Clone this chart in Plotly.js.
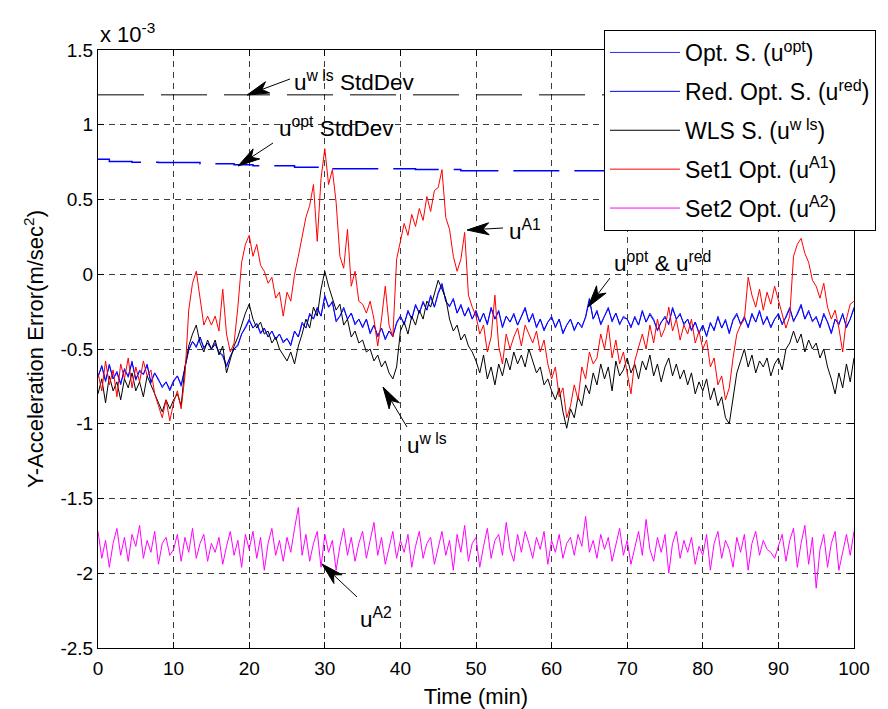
<!DOCTYPE html>
<html>
<head>
<meta charset="utf-8">
<script src="https://cdn.plot.ly/plotly-3.0.1.min.js"></script>
<style>html,body{margin:0;padding:0;background:#fff;}#chart{width:888px;height:709px;}</style>
</head>
<body>
<div id="chart"></div>
<script>
// ---- data (values in units of 1e-3 m/sec^2), sampled every 0.5 min from t = 0 to 100 ----
const tStart = 0;
const tStep = 0.5;

const uOpt = [
 -0.68,-0.62,-0.72,-0.60,-0.70,-0.66,-0.74,-0.63,-0.69,-0.58,
 -0.71,-0.64,-0.67,-0.60,-0.73,-0.66,-0.70,-0.76,-0.72,-0.78,
 -0.72,-0.68,-0.75,-0.62,-0.50,-0.45,-0.48,-0.42,-0.50,-0.46,
 -0.50,-0.46,-0.52,-0.55,-0.62,-0.55,-0.50,-0.48,-0.40,-0.35,
 -0.30,-0.36,-0.33,-0.40,-0.36,-0.42,-0.38,-0.44,-0.40,-0.46,
 -0.43,-0.48,-0.38,-0.42,-0.32,-0.36,-0.26,-0.30,-0.22,-0.28,
 -0.14,-0.22,-0.18,-0.32,-0.28,-0.22,-0.30,-0.26,-0.34,-0.30,
 -0.36,-0.30,-0.40,-0.34,-0.42,-0.36,-0.44,-0.38,-0.42,-0.32,
 -0.28,-0.34,-0.24,-0.30,-0.20,-0.26,-0.18,-0.24,-0.14,-0.22,
 -0.12,-0.06,-0.18,-0.22,-0.16,-0.26,-0.20,-0.28,-0.22,-0.30,
 -0.24,-0.32,-0.26,-0.34,-0.22,-0.30,-0.24,-0.36,-0.28,-0.32,
 -0.26,-0.34,-0.28,-0.22,-0.32,-0.26,-0.36,-0.30,-0.38,-0.32,
 -0.28,-0.36,-0.30,-0.40,-0.34,-0.30,-0.38,-0.32,-0.36,-0.28,
 -0.16,-0.30,-0.24,-0.34,-0.28,-0.22,-0.32,-0.26,-0.34,-0.28,
 -0.30,-0.36,-0.28,-0.34,-0.24,-0.32,-0.26,-0.30,-0.38,-0.32,
 -0.28,-0.34,-0.22,-0.30,-0.26,-0.34,-0.30,-0.38,-0.32,-0.40,
 -0.34,-0.42,-0.32,-0.38,-0.28,-0.36,-0.30,-0.40,-0.30,-0.26,
 -0.34,-0.28,-0.36,-0.26,-0.32,-0.24,-0.34,-0.28,-0.36,-0.30,
 -0.26,-0.34,-0.28,-0.22,-0.32,-0.26,-0.20,-0.30,-0.24,-0.32,
 -0.28,-0.36,-0.26,-0.32,-0.40,-0.30,-0.34,-0.26,-0.36,-0.30,
 -0.22
];

const uRed = [
 -0.69,-0.61,-0.71,-0.61,-0.70,-0.65,-0.73,-0.64,-0.68,-0.59,
 -0.70,-0.65,-0.67,-0.61,-0.72,-0.66,-0.71,-0.75,-0.72,-0.77,
 -0.71,-0.68,-0.74,-0.62,-0.51,-0.45,-0.49,-0.42,-0.49,-0.46,
 -0.50,-0.47,-0.52,-0.54,-0.61,-0.55,-0.50,-0.47,-0.40,-0.36,
 -0.31,-0.36,-0.33,-0.39,-0.36,-0.42,-0.38,-0.43,-0.40,-0.45,
 -0.43,-0.47,-0.38,-0.42,-0.33,-0.36,-0.27,-0.30,-0.23,-0.28,
 -0.15,-0.22,-0.19,-0.31,-0.28,-0.23,-0.30,-0.26,-0.33,-0.30,
 -0.35,-0.30,-0.39,-0.34,-0.41,-0.36,-0.43,-0.38,-0.41,-0.33,
 -0.28,-0.33,-0.25,-0.30,-0.21,-0.26,-0.19,-0.24,-0.15,-0.22,
 -0.13,-0.07,-0.18,-0.21,-0.17,-0.26,-0.21,-0.28,-0.23,-0.30,
 -0.25,-0.32,-0.26,-0.33,-0.23,-0.30,-0.25,-0.35,-0.28,-0.32,
 -0.27,-0.34,-0.28,-0.23,-0.32,-0.27,-0.35,-0.30,-0.37,-0.32,
 -0.29,-0.35,-0.30,-0.39,-0.34,-0.30,-0.37,-0.32,-0.35,-0.29,
 -0.17,-0.30,-0.25,-0.33,-0.28,-0.23,-0.31,-0.26,-0.33,-0.29,
 -0.30,-0.35,-0.29,-0.34,-0.25,-0.32,-0.27,-0.31,-0.37,-0.32,
 -0.29,-0.33,-0.23,-0.30,-0.27,-0.33,-0.30,-0.37,-0.32,-0.39,
 -0.34,-0.41,-0.33,-0.37,-0.29,-0.36,-0.31,-0.39,-0.31,-0.27,
 -0.33,-0.29,-0.35,-0.27,-0.32,-0.25,-0.33,-0.29,-0.35,-0.30,
 -0.27,-0.33,-0.29,-0.23,-0.31,-0.27,-0.21,-0.30,-0.25,-0.31,
 -0.29,-0.35,-0.27,-0.32,-0.39,-0.30,-0.33,-0.27,-0.35,-0.30,
 -0.23
];

const uWls = [
 -0.80,-0.70,-0.86,-0.68,-0.78,-0.72,-0.84,-0.70,-0.76,-0.66,
 -0.78,-0.72,-0.82,-0.68,-0.74,-0.80,-0.86,-0.92,-0.84,-0.90,
 -0.84,-0.80,-0.88,-0.62,-0.48,-0.40,-0.34,-0.46,-0.52,-0.44,
 -0.50,-0.44,-0.54,-0.48,-0.66,-0.56,-0.48,-0.42,-0.34,-0.26,
 -0.20,-0.30,-0.36,-0.32,-0.40,-0.38,-0.46,-0.42,-0.50,-0.54,
 -0.58,-0.52,-0.60,-0.48,-0.40,-0.30,-0.36,-0.22,-0.28,-0.10,
  0.02,-0.08,-0.16,-0.24,-0.20,-0.34,-0.30,-0.42,-0.38,-0.46,
 -0.44,-0.52,-0.50,-0.58,-0.54,-0.62,-0.58,-0.66,-0.70,-0.62,
 -0.38,-0.32,-0.40,-0.28,-0.34,-0.24,-0.30,-0.18,-0.22,-0.12,
 -0.04,-0.10,-0.16,-0.30,-0.38,-0.34,-0.44,-0.40,-0.48,-0.52,
 -0.58,-0.66,-0.54,-0.70,-0.62,-0.74,-0.60,-0.68,-0.56,-0.64,
 -0.52,-0.60,-0.54,-0.62,-0.50,-0.58,-0.66,-0.62,-0.74,-0.70,
 -0.78,-0.84,-0.76,-0.92,-1.03,-0.90,-0.96,-0.82,-0.88,-0.74,
 -0.80,-0.66,-0.74,-0.60,-0.70,-0.62,-0.78,-0.58,-0.68,-0.64,
 -0.56,-0.66,-0.60,-0.70,-0.58,-0.64,-0.54,-0.68,-0.60,-0.72,
 -0.62,-0.56,-0.68,-0.60,-0.70,-0.64,-0.74,-0.66,-0.80,-0.72,
 -0.78,-0.70,-0.84,-0.76,-0.88,-0.82,-0.96,-1.00,-0.84,-0.66,
 -0.58,-0.50,-0.62,-0.54,-0.66,-0.58,-0.62,-0.56,-0.68,-0.60,
 -0.56,-0.64,-0.50,-0.46,-0.38,-0.46,-0.40,-0.52,-0.44,-0.50,
 -0.46,-0.56,-0.50,-0.62,-0.70,-0.80,-0.66,-0.76,-0.60,-0.72,
 -0.56
];

const uA1 = [
 -0.66,-0.78,-0.58,-0.74,-0.64,-0.82,-0.60,-0.70,-0.56,-0.76,
 -0.62,-0.72,-0.58,-0.68,-0.64,-0.80,-0.88,-0.96,-0.84,-0.98,
 -0.86,-0.78,-0.90,-0.68,-0.24,-0.06, 0.02,-0.16,-0.34,-0.28,
 -0.34,-0.28,-0.38,-0.10,-0.40,-0.52,-0.46,-0.22, 0.08, 0.20,
  0.26, 0.12, 0.20, 0.06, 0.02,-0.06,-0.02,-0.16,-0.12,-0.28,
 -0.12,-0.18, 0.00, 0.12, 0.26, 0.38, 0.46, 0.60, 0.22, 0.64,
  0.84, 0.60, 0.70, 0.48, 0.12, 0.04, 0.30,-0.08, 0.02,-0.18,
 -0.20,-0.26,-0.18,-0.30,-0.48,-0.30,-0.08,-0.34,-0.42, 0.10,
  0.22, 0.34, 0.26, 0.40, 0.32, 0.44, 0.36, 0.52, 0.42, 0.56,
  0.58, 0.70, 0.38, 0.30, 0.12, 0.02, 0.10, 0.28,-0.14,-0.22,
 -0.28,-0.40,-0.34,-0.52,-0.42,-0.14,-0.48,-0.60,-0.40,-0.50,
 -0.42,-0.36,-0.48,-0.34,-0.40,-0.46,-0.38,-0.52,-0.44,-0.60,
 -0.70,-0.62,-0.82,-0.76,-0.96,-0.88,-0.74,-0.84,-0.62,-0.70,
 -0.52,-0.60,-0.56,-0.40,-0.50,-0.34,-0.56,-0.44,-0.60,-0.52,
 -0.66,-0.80,-0.58,-0.48,-0.40,-0.50,-0.34,-0.46,-0.30,-0.42,
 -0.36,-0.22,-0.38,-0.30,-0.44,-0.34,-0.40,-0.30,-0.46,-0.38,
 -0.50,-0.44,-0.62,-0.56,-0.74,-0.68,-0.84,-0.76,-0.56,-0.40,
 -0.34,-0.30,-0.02,-0.14,-0.22,-0.10,-0.24,-0.12,-0.20,-0.08,
 -0.18,-0.26,-0.36,-0.28, 0.12, 0.20, 0.24, 0.14, 0.08,-0.04,
 -0.08,-0.16,-0.06,-0.22,-0.30,-0.24,-0.36,-0.52,-0.30,-0.20,
 -0.18
];

const uA2 = [
 -1.72,-1.90,-1.78,-1.96,-1.80,-1.70,-1.88,-1.76,-1.92,-1.74,
 -1.82,-1.68,-1.90,-1.78,-1.86,-1.72,-1.94,-1.80,-1.76,-1.88,
 -1.84,-1.74,-1.92,-1.76,-1.86,-1.70,-1.90,-1.80,-1.74,-1.92,
 -1.80,-1.86,-1.76,-1.94,-1.82,-1.72,-1.88,-1.78,-1.96,-1.74,
 -1.84,-1.72,-1.90,-1.76,-1.98,-1.80,-1.70,-1.88,-1.78,-1.92,
 -1.76,-1.86,-1.70,-1.56,-1.88,-1.74,-1.92,-1.80,-1.72,-1.96,
 -1.74,-1.86,-1.78,-1.98,-1.82,-1.70,-1.88,-1.76,-1.92,-1.80,
 -1.72,-1.90,-1.78,-1.66,-1.88,-1.76,-1.94,-1.84,-1.72,-1.90,
 -1.78,-1.86,-1.74,-1.96,-1.82,-1.72,-1.90,-1.80,-1.76,-1.94,
 -1.84,-1.72,-1.88,-1.78,-1.98,-1.74,-1.86,-1.68,-1.92,-1.80,
 -1.76,-1.96,-1.82,-1.70,-1.90,-1.78,-1.74,-1.88,-1.66,-1.84,
 -1.92,-1.74,-1.86,-1.72,-1.80,-1.90,-1.76,-1.84,-1.72,-1.94,
 -1.78,-1.86,-1.74,-1.90,-1.80,-1.76,-1.88,-1.74,-1.82,-1.62,
 -1.86,-1.78,-1.90,-1.74,-1.84,-1.76,-1.92,-1.80,-1.70,-1.88,
 -1.78,-1.94,-1.82,-1.72,-1.88,-1.64,-1.84,-1.92,-1.76,-1.86,
 -1.74,-2.00,-1.80,-1.72,-1.90,-1.78,-1.86,-1.76,-1.94,-1.82,
 -1.88,-1.74,-1.98,-1.80,-1.72,-1.90,-1.78,-1.84,-1.96,-1.76,
 -1.86,-1.74,-1.98,-1.80,-1.72,-1.88,-1.78,-1.84,-1.86,-1.90,
 -1.82,-1.74,-1.92,-1.78,-1.70,-1.96,-1.80,-1.68,-1.94,-1.76,
 -2.10,-1.84,-1.74,-1.96,-1.80,-1.72,-1.98,-1.86,-1.74,-1.88,
 -1.72
];

// standard deviation levels
const stdWlsTime = [0, 100];
const stdWls = [1.2, 1.2];
const stdOptTime = [0, 1.5, 4.5, 8, 13.5, 18, 20.5, 26, 30, 42, 48, 100];
const stdOpt = [0.770, 0.755, 0.750, 0.748, 0.739, 0.732, 0.725, 0.715, 0.705, 0.701, 0.692, 0.692];

// axis ticks
const xTickVals = [0, 10, 20, 30, 40, 50, 60, 70, 80, 90, 100];
const xTickText = ['0', '10', '20', '30', '40', '50', '60', '70', '80', '90', '100'];
const yTickVals = [-2.5, -2, -1.5, -1, -0.5, 0, 0.5, 1, 1.5];
const yTickText = ['-2.5', '-2', '-1.5', '-1', '-0.5', '0', '0.5', '1', '1.5'];

const legendNames = [
  'Opt. S. (u<sup>opt</sup>)',
  'Red. Opt. S. (u<sup>red</sup>)',
  'WLS S. (u<sup>w ls</sup>)',
  'Set1 Opt. (u<sup>A1</sup>)',
  'Set2 Opt. (u<sup>A2</sup>)'
];

// ---- layout helpers ----
const FONT = 'Liberation Sans, Arial, Helvetica, sans-serif';
const M = {l: 98, r: 34, t: 50, b: 61};
const W = 888, H = 709;
const PW = W - M.l - M.r, PH = H - M.t - M.b;
const X_RANGE = [0, 100], Y_RANGE = [-2.5, 1.5];
function tAt(px) { return X_RANGE[0] + (px - M.l) / PW * (X_RANGE[1] - X_RANGE[0]); }
function vAt(py) { return Y_RANGE[1] - (py - M.t) / PH * (Y_RANGE[1] - Y_RANGE[0]); }

// ---- traces (legend order: opt, red, wls, A1, A2) ----
const lineTrace = (y, name, color, group) => ({
  type: 'scatter', mode: 'lines', x0: tStart, dx: tStep, y: y,
  name: name, legendgroup: group,
  line: {color: color, width: 1}, hoverinfo: 'skip'
});

const traces = [
  {type: 'scatter', mode: 'lines', x: stdWlsTime, y: stdWls, showlegend: false, hoverinfo: 'skip',
   line: {color: 'black', width: 1, dash: '46px,17px'}},
  {type: 'scatter', mode: 'lines', x: stdOptTime, y: stdOpt, showlegend: false, hoverinfo: 'skip',
   line: {color: '#0000ff', width: 1.5, dash: '46px,15px', shape: 'hv'}},
  lineTrace(uOpt, legendNames[0], '#2a2aff', 'g1'),
  lineTrace(uRed, legendNames[1], '#0000ff', 'g2'),
  lineTrace(uWls, legendNames[2], '#000000', 'g3'),
  lineTrace(uA1, legendNames[3], '#ff0000', 'g4'),
  lineTrace(uA2, legendNames[4], '#ff00ff', 'g5')
];

// ---- arrows (MATLAB-style filled heads), tip and tail given in screen pixels ----
const arrows = [
  {tip: [247, 95], tail: [290, 79]},
  {tip: [238, 166], tail: [273, 143]},
  {tip: [467, 230], tail: [503, 228]},
  {tip: [588, 307], tail: [610, 278]},
  {tip: [383, 387], tail: [407, 427]},
  {tip: [322, 564], tail: [357, 597]}
];
const shapes = arrows.map(a => {
  const dx = a.tail[0] - a.tip[0], dy = a.tail[1] - a.tip[1];
  const len = Math.hypot(dx, dy);
  const ux = dx / len, uy = dy / len, nx = -uy, ny = ux;
  const L = 22, Wh = 6, N = 0.72 * L;
  const p = (x, y) => x.toFixed(2) + ',' + (-y).toFixed(2);
  const path = 'M' + p(dx, dy) + 'L' + p(ux * N, uy * N) +
    'M0,0L' + p(ux * L + nx * Wh, uy * L + ny * Wh) + 'L' + p(ux * N, uy * N) +
    'L' + p(ux * L - nx * Wh, uy * L - ny * Wh) + 'Z';
  return {type: 'path', xref: 'x', yref: 'y', xsizemode: 'pixel', ysizemode: 'pixel',
    xanchor: tAt(a.tip[0]), yanchor: vAt(a.tip[1]), path: path,
    line: {color: 'black', width: 1}, fillcolor: 'black', layer: 'above'};
});

const labels = [
  {px: [292, 81], text: 'u<sup>w ls</sup> StdDev'},
  {px: [277, 127], text: 'u<sup>opt</sup> StdDev'},
  {px: [507, 230], text: 'u<sup>A1</sup>'},
  {px: [612, 262], text: 'u<sup>opt</sup> &amp; u<sup>red</sup>'},
  {px: [405, 444], text: 'u<sup>w ls</sup>'},
  {px: [358, 618], text: 'u<sup>A2</sup>'}
];
const annotations = labels.map(l => ({
  x: tAt(l.px[0]), y: vAt(l.px[1]), xref: 'x', yref: 'y', text: l.text,
  showarrow: false, xanchor: 'left', yanchor: 'middle',
  font: {family: FONT, size: 22.5, color: 'black'}
}));
annotations.push({
  xref: 'paper', yref: 'paper', x: 0, y: 1 + 17 / PH, xanchor: 'left', yanchor: 'middle',
  text: 'x 10<sup>-3</sup>', showarrow: false, font: {family: FONT, size: 22, color: 'black'}
});

const axisCommon = {
  ticks: 'inside', ticklen: 6, tickcolor: 'black', tickwidth: 1,
  showline: true, linecolor: 'black', linewidth: 1, mirror: 'ticks',
  showgrid: true, gridcolor: '#3c3c3c', gridwidth: 1, griddash: '6px,5px',
  zeroline: false, tickfont: {family: FONT, size: 19, color: 'black'}
};

const layout = {
  width: W, height: H,
  margin: Object.assign({autoexpand: false}, M),
  paper_bgcolor: 'white', plot_bgcolor: 'white',
  font: {family: FONT, size: 19, color: 'black'},
  showlegend: true,
  xaxis: Object.assign({}, axisCommon, {
    range: X_RANGE, tickmode: 'array', tickvals: xTickVals, ticktext: xTickText,
    ticklabelstandoff: 3,
    title: {text: 'Time (min)', font: {family: FONT, size: 22, color: 'black'}, standoff: 11}
  }),
  yaxis: Object.assign({}, axisCommon, {
    range: Y_RANGE, tickmode: 'array', tickvals: yTickVals, ticktext: yTickText,
    title: {text: 'Y-Acceleration Error(m/sec<sup>2</sup>)', font: {family: FONT, size: 22, color: 'black'}, standoff: 10}
  }),
  legend: {
    x: (604 - M.l) / PW, y: 1 + (M.t - 30) / PH, xanchor: 'left', yanchor: 'top',
    bgcolor: 'white', bordercolor: 'black', borderwidth: 1,
    font: {family: FONT, size: 23, color: 'black'},
    itemwidth: 70, tracegroupgap: 6, traceorder: 'grouped', itemclick: false,
    entrywidth: 215, entrywidthmode: 'pixels'
  },
  shapes: shapes,
  annotations: annotations
};

Plotly.newPlot('chart', traces, layout, {staticPlot: true, displayModeBar: false});
</script>
</body>
</html>
